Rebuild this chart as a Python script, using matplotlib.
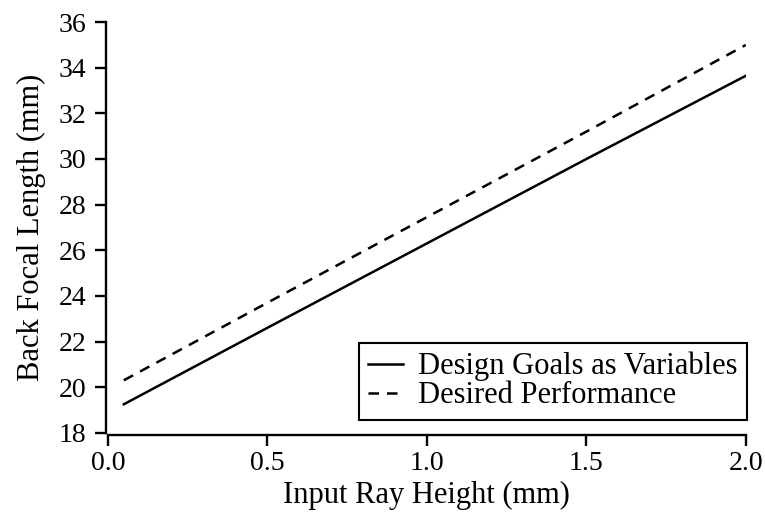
import matplotlib
matplotlib.use("Agg")
import matplotlib.pyplot as plt

# ── Data ───────────────────────────────────────────────────────────
ray_height = [0.05, 0.5, 1.0, 1.5, 2.0]
bfl_goals = [19.25, 22.6, 26.3, 30.0, 33.65]
bfl_desired = [20.3, 23.7, 27.45, 31.2, 35.0]

x_ticks = [0.0, 0.5, 1.0, 1.5, 2.0]
y_ticks = [18, 20, 22, 24, 26, 28, 30, 32, 34, 36]

plt.rcParams["font.family"] = ["Liberation Serif", "DejaVu Serif"]

fig = plt.figure(figsize=(7.65, 5.14), dpi=100)
ax = fig.add_axes([0.141, 0.158, 0.834, 0.799])

ax.plot(ray_height, bfl_goals, color="black", lw=1.8, label="Design Goals as Variables")
ax.plot(ray_height, bfl_desired, color="black", lw=1.8, linestyle=(0, (4.2, 3.2)),
        label="Desired Performance")

ax.set_xlim(0.0, 2.0)
ax.set_ylim(18, 36)
ax.set_xticks(x_ticks)
ax.set_xticklabels([f"{v:.1f}" for v in x_ticks])
ax.set_yticks(y_ticks)

for side in ["top", "right"]:
    ax.spines[side].set_visible(False)
for side in ["left", "bottom"]:
    ax.spines[side].set_linewidth(1.7)
    ax.spines[side].set_position(("outward", 1.5))

ax.tick_params(direction="out", length=8, width=1.7, labelsize=20)
ax.tick_params(axis="y", pad=6)
ax.tick_params(axis="x", pad=3.5)

ax.set_xlabel("Input Ray Height (mm)", fontsize=22, labelpad=4)
ax.set_ylabel("Back Focal Length (mm)", fontsize=22, labelpad=9)

leg = ax.legend(loc="lower right", bbox_to_anchor=(1.002, 0.032), fontsize=22,
                frameon=True, fancybox=False, handlelength=1.15, handletextpad=0.5,
                borderpad=0.3, labelspacing=0.0, borderaxespad=0)
leg.get_frame().set_edgecolor("black")
leg.get_frame().set_linewidth(1.5)
leg.get_frame().set_alpha(1)

fig.savefig("out.png", dpi=100)
